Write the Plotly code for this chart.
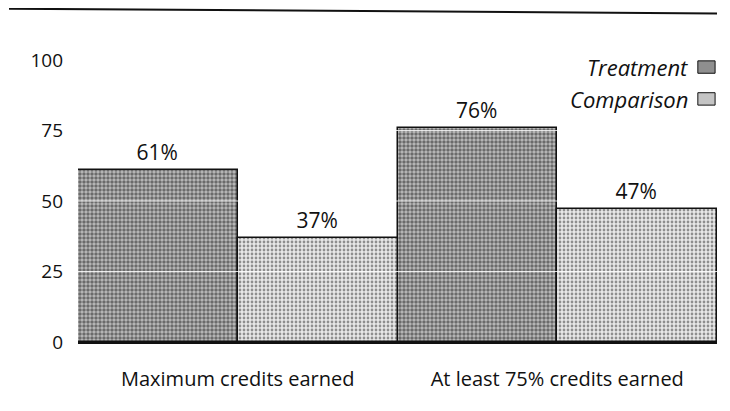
import plotly.graph_objects as go

# data
categories = ["Maximum credits earned", "At least 75% credits earned"]
treatment = [61, 76]
comparison = [37, 47]
y_ticks = [0, 25, 50, 75, 100]

font_family = "Open Sans, Noto Sans, sans-serif"

fig = go.Figure()
fig.add_trace(go.Bar(
    name="Treatment", x=categories, y=treatment,
    texttemplate="%{y}%", textposition="outside",
    textfont=dict(size=21, color="#111"),
    marker=dict(color="#8a8a8a", line=dict(color="#111", width=1.5),
                pattern=dict(shape=".", fgcolor="#1a1a1a", bgcolor="#bdbdbd",
                             size=4, solidity=0.6)),
    cliponaxis=False,
))
fig.add_trace(go.Bar(
    name="Comparison", x=categories, y=comparison,
    texttemplate="%{y}%", textposition="outside",
    textfont=dict(size=21, color="#111"),
    marker=dict(color="#c8c8c8", line=dict(color="#111", width=1.5),
                pattern=dict(shape=".", fgcolor="#333", bgcolor="#e8e8e8",
                             size=4, solidity=0.38)),
    cliponaxis=False,
))

# faint white gridlines running across the bars
for v in y_ticks[1:-1]:
    fig.add_shape(type="line", xref="paper", yref="y", x0=0, x1=1, y0=v, y1=v,
                  line=dict(color="white", width=1.2), layer="above", opacity=0.8)

# rule across the top of the page (slightly tilted, like the scan)
fig.add_shape(type="line", xref="paper", yref="paper", x0=-0.108, x1=1.0,
              y0=1.182, y1=1.165, line=dict(color="#111", width=2))

# legend: italic label with swatch on its right
legend_items = [("Treatment", "#8f8f8f", 0.975), ("Comparison", "#c4c4c4", 0.862)]
for label, fill, yy in legend_items:
    fig.add_annotation(xref="paper", yref="paper", x=0.957, y=yy, xanchor="right",
                       yanchor="middle", showarrow=False,
                       text="<i>" + label + "</i>",
                       font=dict(size=22, color="#111", family=font_family))
    fig.add_shape(type="rect", xref="paper", yref="paper",
                  x0=0.970, x1=0.997, y0=yy - 0.022, y1=yy + 0.022,
                  fillcolor=fill, line=dict(color="#111", width=1))

# page body adds 8px on top/left, so the figure is a bit smaller than the window
fig.update_layout(
    width=722, height=403,
    margin=dict(l=70, r=13, t=52, b=69),
    paper_bgcolor="white", plot_bgcolor="white",
    barmode="group", bargap=0, bargroupgap=0,
    showlegend=False,
    font=dict(family=font_family, size=19, color="#111"),
    xaxis=dict(showline=True, linecolor="#111", linewidth=1.5, ticks="",
               tickfont=dict(size=20), ticklabelstandoff=18),
    yaxis=dict(range=[0, 100], tickvals=y_ticks, showgrid=False,
               zeroline=False, showline=False, ticks="",
               tickfont=dict(size=19), ticklabelstandoff=14),
)

fig.write_html("out.html")
